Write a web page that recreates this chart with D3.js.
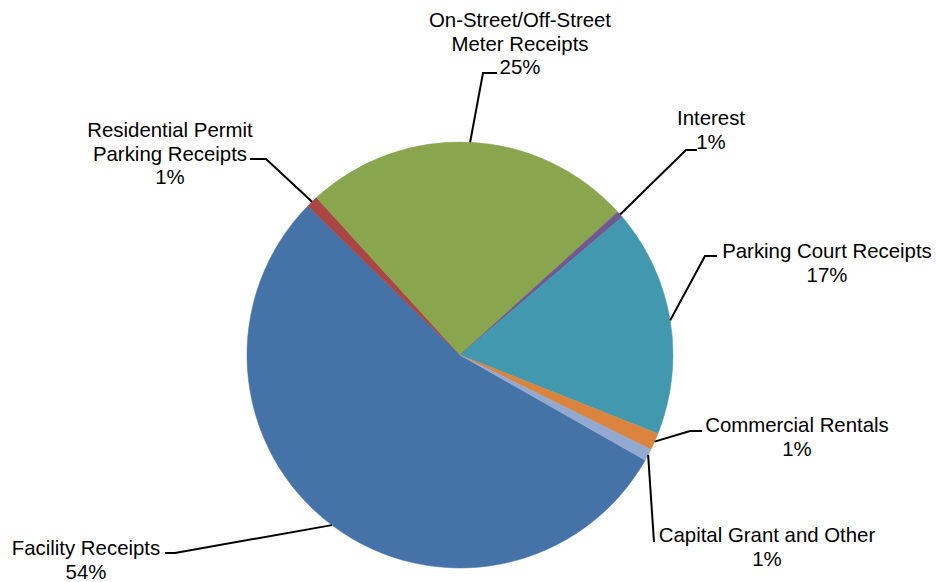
<!DOCTYPE html>
<html>
<head>
<meta charset="utf-8">
<script src="https://cdn.jsdelivr.net/npm/d3@7"></script>
<style>
  body { margin: 0; background: #fff; }
  svg text { font-family: "Liberation Sans", Arial, sans-serif; font-size: 20.4px; fill: #000; }
</style>
</head>
<body>
<div id="chart"></div>
<script>
// revenue share by source, clockwise starting from Facility Receipts
var categories = [
  'Facility Receipts',
  'Residential Permit Parking Receipts',
  'On-Street/Off-Street Meter Receipts',
  'Interest',
  'Parking Court Receipts',
  'Commercial Rentals',
  'Capital Grant and Other'
];
var values = [54, 0.9, 25, 0.5, 17.2, 1.3, 0.9];
// how each label is broken into lines
var labelLines = [
  ['Facility Receipts'],
  ['Residential Permit', 'Parking Receipts'],
  ['On-Street/Off-Street', 'Meter Receipts'],
  ['Interest'],
  ['Parking Court Receipts'],
  ['Commercial Rentals'],
  ['Capital Grant and Other']
];
var colors = ['#4572A7', '#AA4643', '#89A54E', '#71588F', '#4198AF', '#DB843D', '#93A9CF'];

// layout
var width = 936, height = 582;
var cx = 460, cy = 355, radius = 213;
var startDeg = 119.6;
var lineHeight = 23.5;
// label block: text centre x, first baseline y, elbow point, end of leader
var labelLayout = [
  { x: 86,  y: 555, elbow: [175, 553], end: [165, 553] },
  { x: 170, y: 137, elbow: [266, 159], end: [250, 159] },
  { x: 520, y: 27,  elbow: [483, 73],  end: [497, 73] },
  { x: 711, y: 125, elbow: [686, 150], end: [697, 150] },
  { x: 827, y: 258, elbow: [705, 256], end: [717, 256] },
  { x: 797, y: 432, elbow: [690, 431], end: [702, 431] },
  { x: 767, y: 542, elbow: null,       end: [654, 542] }
];

var total = d3.sum(values);
var data = categories.map(function (c, i) {
  return { name: c, value: values[i], pct: Math.round(values[i] / total * 100) + '%', i: i };
});

var svg = d3.select('#chart').append('svg')
  .attr('width', width).attr('height', height);

var pie = d3.pie()
  .sort(null)
  .value(function (d) { return d.value; })
  .startAngle(startDeg * Math.PI / 180)
  .endAngle(startDeg * Math.PI / 180 + 2 * Math.PI);

var arc = d3.arc().innerRadius(0).outerRadius(radius);
var edge = d3.arc().innerRadius(radius).outerRadius(radius);

var arcs = pie(data);

var g = svg.append('g').attr('transform', 'translate(' + cx + ',' + cy + ')');

g.selectAll('path.slice')
  .data(arcs)
  .enter()
  .append('path')
  .attr('class', 'slice')
  .attr('d', arc)
  .attr('fill', function (d) { return colors[d.data.i]; })
  .attr('stroke', function (d) { return colors[d.data.i]; })
  .attr('stroke-width', 0.5);

// leader lines: from the slice edge to the label
svg.selectAll('polyline.leader')
  .data(arcs)
  .enter()
  .append('polyline')
  .attr('class', 'leader')
  .attr('fill', 'none')
  .attr('stroke', '#000')
  .attr('stroke-width', 2)
  .attr('points', function (d) {
    var p = edge.centroid(d);
    var L = labelLayout[d.data.i];
    var pts = [[p[0] + cx, p[1] + cy]];
    if (L.elbow) pts.push(L.elbow);
    pts.push(L.end);
    return pts.map(function (q) { return q.join(','); }).join(' ');
  });

var labels = svg.selectAll('text.lbl')
  .data(data)
  .enter()
  .append('text')
  .attr('class', 'lbl')
  .attr('text-anchor', 'middle');

labels.each(function (d) {
  var L = labelLayout[d.i];
  var lines = labelLines[d.i].concat([d.pct]);
  var t = d3.select(this);
  lines.forEach(function (s, k) {
    t.append('tspan')
      .attr('x', L.x)
      .attr('y', L.y + k * lineHeight)
      .text(s);
  });
});
</script>
</body>
</html>
